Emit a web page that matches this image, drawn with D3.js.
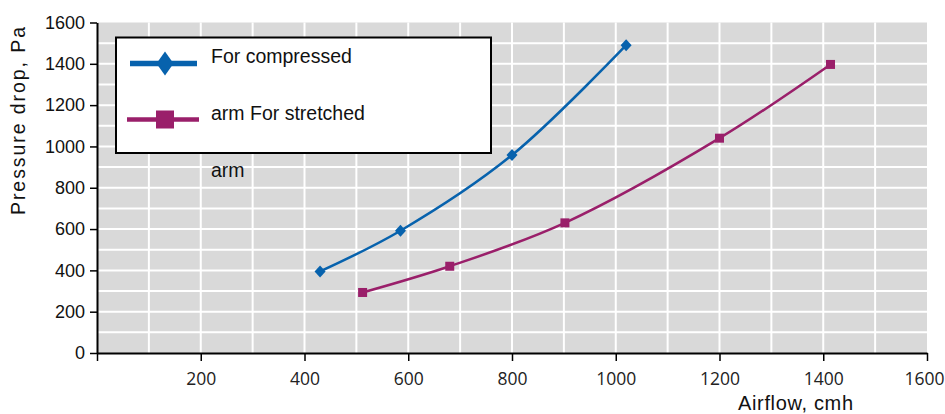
<!DOCTYPE html>
<html><head><meta charset="utf-8">
<script src="https://cdn.jsdelivr.net/npm/d3@7/dist/d3.min.js"></script>
<style>body{margin:0;background:#fff}svg{display:block}</style>
</head><body>
<svg id="c" width="945" height="414"></svg>
<script>
const seriesNames = ["For compressed", "arm For stretched"];
const compressedX = [430, 585, 800, 1020];
const compressedY = [395, 592, 958, 1490];
const stretchedX = [512, 680, 902, 1200, 1414];
const stretchedY = [293, 420, 630, 1040, 1397];
const xTicks = [0, 200, 400, 600, 800, 1000, 1200, 1400, 1600];
const yTicks = [0, 200, 400, 600, 800, 1000, 1200, 1400, 1600];
const xLabel = "Airflow, cmh";
const yLabel = "Pressure drop, Pa";
const extraLegendText = "arm";

const svg = d3.select("#c");
const W = 945, L = 97, R = 927, T = 22.5, B = 353;
const x = d3.scaleLinear().domain([0, 1600]).range([L, R]);
const y = d3.scaleLinear().domain([0, 1600]).range([B, T]);
const blue = "#0762ad", purple = "#9a1f6a";

svg.append("rect").attr("x", L).attr("y", T).attr("width", R - L).attr("height", B - T).attr("fill", "#d9d9d9");
const grid = d3.range(100, 1600, 100);
svg.append("g").selectAll("line").data(grid).join("line")
  .attr("x1", d => x(d)).attr("x2", d => x(d)).attr("y1", T).attr("y2", B)
  .attr("stroke", "#fff").attr("stroke-width", 2);
svg.append("g").selectAll("line").data(grid).join("line")
  .attr("y1", d => y(d)).attr("y2", d => y(d)).attr("x1", L).attr("x2", R)
  .attr("stroke", "#fff").attr("stroke-width", 2);

const xAxis = svg.append("g").attr("transform", `translate(0,${B})`)
  .call(d3.axisBottom(x).tickValues(xTicks).tickSize(8).tickSizeOuter(0).tickFormat(d => d === 0 ? "" : d3.format("d")(d)));
xAxis.select(".domain").attr("stroke", "#000").attr("stroke-width", 2);
xAxis.selectAll(".tick line").attr("stroke", "#000").attr("stroke-width", 1.5);
xAxis.selectAll("text").attr("font-family", "Open Sans").attr("font-size", 17.5).attr("fill", "#222").attr("dy", "1.22em");
// keep the last label inside the page edge
xAxis.selectAll(".tick").filter(d => d === 1600).select("text")
  .attr("text-anchor", "end").attr("x", W - 1 - x(1600));

const yAxis = svg.append("g").attr("transform", `translate(${L},0)`)
  .call(d3.axisLeft(y).tickValues(yTicks).tickSize(7).tickSizeOuter(0).tickFormat(d3.format("d")));
yAxis.select(".domain").attr("stroke", "#000").attr("stroke-width", 2);
yAxis.selectAll(".tick line").attr("stroke", "#000").attr("stroke-width", 1.5);
yAxis.selectAll("text").attr("font-family", "Liberation Sans").attr("font-size", 18).attr("fill", "#111").attr("x", -12);

const line = d3.line().x(d => x(d[0])).y(d => y(d[1])).curve(d3.curveCatmullRom);
const comp = compressedX.map((v, i) => [v, compressedY[i]]);
const str = stretchedX.map((v, i) => [v, stretchedY[i]]);

svg.append("path").datum(comp).attr("d", line).attr("fill", "none").attr("stroke", blue).attr("stroke-width", 2.5);
svg.append("path").datum(str).attr("d", line).attr("fill", "none").attr("stroke", purple).attr("stroke-width", 2.5);

const diamond = (cx, cy, w, h) => `M${cx},${cy - h / 2}L${cx + w / 2},${cy}L${cx},${cy + h / 2}L${cx - w / 2},${cy}Z`;
svg.append("g").selectAll("path").data(comp).join("path")
  .attr("d", d => diamond(x(d[0]), y(d[1]), 11, 12)).attr("fill", blue);
svg.append("g").selectAll("rect").data(str).join("rect")
  .attr("x", d => x(d[0]) - 4.5).attr("y", d => y(d[1]) - 4.5).attr("width", 9).attr("height", 9).attr("fill", purple);

// legend
const lg = svg.append("g");
lg.append("rect").attr("x", 116).attr("y", 37.5).attr("width", 375).attr("height", 115.5)
  .attr("fill", "#fff").attr("stroke", "#000").attr("stroke-width", 2);
lg.append("line").attr("x1", 130).attr("x2", 197).attr("y1", 63.5).attr("y2", 63.5).attr("stroke", blue).attr("stroke-width", 5.5);
lg.append("path").attr("d", diamond(165, 63.5, 17, 24)).attr("fill", blue);
lg.append("line").attr("x1", 127).attr("x2", 199).attr("y1", 119.5).attr("y2", 119.5).attr("stroke", purple).attr("stroke-width", 4.5);
lg.append("rect").attr("x", 156).attr("y", 110.5).attr("width", 18).attr("height", 18).attr("fill", purple);
lg.selectAll("text.s").data(seriesNames).join("text")
  .attr("x", 211).attr("y", (d, i) => i === 0 ? 63 : 120)
  .attr("font-family", "Liberation Sans").attr("font-size", 19.5).attr("fill", "#111").text(d => d);
svg.append("text").attr("x", 211).attr("y", 177).attr("font-family", "Liberation Sans").attr("font-size", 19.5).attr("fill", "#111").text(extraLegendText);

svg.append("text").attr("x", 738).attr("y", 410).attr("font-family", "Liberation Sans").attr("font-size", 20)
  .attr("textLength", 115).attr("lengthAdjust", "spacing").attr("fill", "#111").text(xLabel);
svg.append("text").attr("transform", "translate(25,121) rotate(-90)").attr("text-anchor", "middle")
  .attr("font-family", "Liberation Sans").attr("font-size", 19.5).attr("textLength", 188).attr("lengthAdjust", "spacing")
  .attr("fill", "#111").text(yLabel);
</script>
</body></html>
